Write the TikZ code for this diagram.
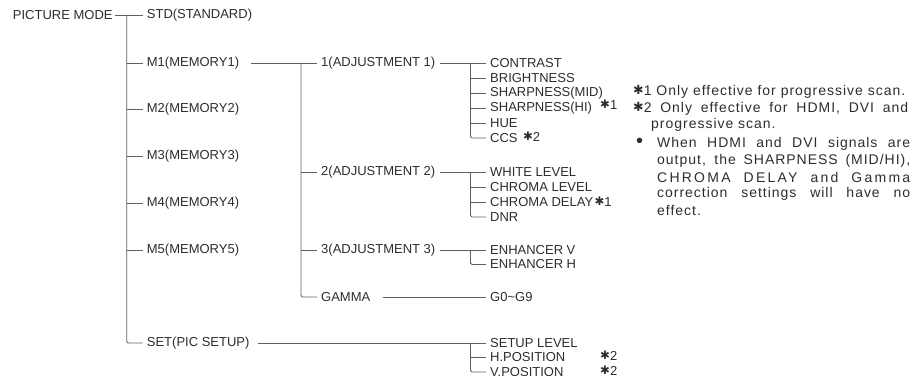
\documentclass[tikz,border=0pt]{standalone}
\usepackage{fontspec}
\usepackage{tikz}
\usepackage{xcolor}
\usetikzlibrary{positioning}
\setmainfont{Liberation Sans}
\newfontfamily\notefont[LetterSpace=7]{Liberation Sans}
\newfontfamily\starfont[Scale=0.9]{DejaVu Sans Bold}
\definecolor{TextColor}{RGB}{45,45,45}
\definecolor{LineColor}{RGB}{95,95,95}
\newcommand{\starmark}[1]{\raisebox{0.05em}{\starfont\char"2731}#1}

\begin{document}
\begin{tikzpicture}[x=1pt, y=-1pt, font=\fontsize{13}{15}\selectfont, text=TextColor,
    item/.style={anchor=west, inner xsep=4pt, inner ysep=1pt},
    wire/.style={draw=LineColor, line width=0.9pt},
    trunk/.style={wire, rounded corners=1.5pt},
    footref/.style={anchor=west, inner sep=0pt},
    noteline/.style={anchor=west, inner sep=0pt, font=\notefont\fontsize{14}{16}\selectfont}]
  \useasboundingbox (0,0) rectangle (913,381);

  % menu levels
  \node[item] (pm) at (8.7,15) {PICTURE MODE};
  \node[item] (std) at (142.7,15) {STD(STANDARD)};
  \node[item] (m1) at (142.7,63) {M1(MEMORY1)};
  \node[item] (m2) at (142.7,109) {M2(MEMORY2)};
  \node[item] (m3) at (142.7,156) {M3(MEMORY3)};
  \node[item] (m4) at (142.7,203) {M4(MEMORY4)};
  \node[item] (m5) at (142.7,250) {M5(MEMORY5)};
  \node[item] (set) at (142.7,343) {SET(PIC SETUP)};

  \node[item] (adj1) at (317,63) {1(ADJUSTMENT 1)};
  \node[item] (adj2) at (317,172) {2(ADJUSTMENT 2)};
  \node[item] (adj3) at (317,250) {3(ADJUSTMENT 3)};
  \node[item] (gam) at (317,297) {GAMMA};

  \node[item] (con) at (486,63) {CONTRAST};
  \node[item] (bri) at (486,78) {BRIGHTNESS};
  \node[item] (shm) at (486,93) {SHARPNESS(MID)};
  \node[item] (shh) at (486,108) {SHARPNESS(HI)};
  \node[item] (hue) at (486,123) {HUE};
  \node[item] (ccs) at (486,138) {CCS};
  \node[item] (wl) at (486,172) {WHITE LEVEL};
  \node[item] (cl) at (486,187) {CHROMA LEVEL};
  \node[item] (cd) at (486,202) {CHROMA DELAY};
  \node[item] (dnr) at (486,217) {DNR};
  \node[item] (ev) at (486,250) {ENHANCER V};
  \node[item] (eh) at (486,264.5) {ENHANCER H};
  \node[item] (gval) at (486,297) {G0\textasciitilde G9};
  \node[item] (sl) at (486,343) {SETUP LEVEL};
  \node[item] (hp) at (486,357.5) {H.POSITION};
  \node[item] (vp) at (486,372) {V.POSITION};

  % branch lines
  \coordinate (t1) at (126.7,15);
  \coordinate (t2) at (301,63);
  \coordinate (ta) at (470.5,63);
  \coordinate (tb) at (470.5,172);
  \coordinate (tc) at (470.5,250);
  \coordinate (td) at (470.5,343);

  \draw[wire, shorten <=-2pt] (pm) -- (std);
  \draw[trunk] (t1) |- (set.west);
  \foreach \n in {m1,m2,m3,m4,m5} \draw[wire] (t1 |- \n.west) -- (\n.west);

  \draw[wire, shorten <=8pt] (m1) -- (adj1);
  \draw[trunk] (t2) |- (gam.west);
  \foreach \n in {adj2,adj3} \draw[wire] (t2 |- \n.west) -- (\n.west);

  \draw[wire] (adj1) -- (con);
  \draw[trunk] (ta) |- (ccs.west);
  \foreach \n in {bri,shm,shh,hue} \draw[wire] (ta |- \n.west) -- (\n.west);
  \draw[wire] (adj2) -- (wl);
  \draw[trunk] (tb) |- (dnr.west);
  \foreach \n in {cl,cd} \draw[wire] (tb |- \n.west) -- (\n.west);
  \draw[wire] (adj3) -- (ev);
  \draw[trunk] (tc) |- (eh.west);
  \draw[wire, shorten <=8pt] (gam) -- (gval);
  \draw[wire, shorten <=4pt] (set) -- (sl);
  \draw[trunk] (td) |- (vp.west);
  \draw[wire] (td |- hp.west) -- (hp.west);

  % footnote marks
  \node[footref] (shhref) at (600,105) {\starmark1};
  \node[footref, right=1pt of ccs, yshift=1.5pt] (ccsref) {\starmark2};
  \node[footref, right=-3pt of cd] (cdref) {\starmark1};
  \node[footref] (hpref) at (600,356) {\starmark2};
  \node[footref] (vpref) at (600,371) {\starmark2};

  % notes
  \node[noteline] (n1) at (633,92) {\starmark1 Only effective for progressive scan.};
  \node[noteline] (n2) at (633,108.5) {\hbox to 275pt{\starmark2 Only effective for HDMI, DVI and}};
  \node[noteline] (n3) at (651,125) {progressive scan.};
  \node[noteline, font=\fontsize{20}{20}\selectfont] (dot) at (636,143) {\textbullet};
  \node[noteline] (w1) at (657,144) {\hbox to 253pt{When HDMI and DVI signals are}};
  \node[noteline] (w2) at (657,160.5) {\hbox to 253pt{output, the SHARPNESS (MID/HI),}};
  \node[noteline] (w3) at (657,177) {\hbox to 253pt{\addfontfeature{LetterSpace=16}CHROMA DELAY and Gamma}};
  \node[noteline] (w4) at (657,193.5) {\hbox to 253pt{correction settings will have no}};
  \node[noteline] (w5) at (657,210) {effect.};
\end{tikzpicture}
\end{document}
